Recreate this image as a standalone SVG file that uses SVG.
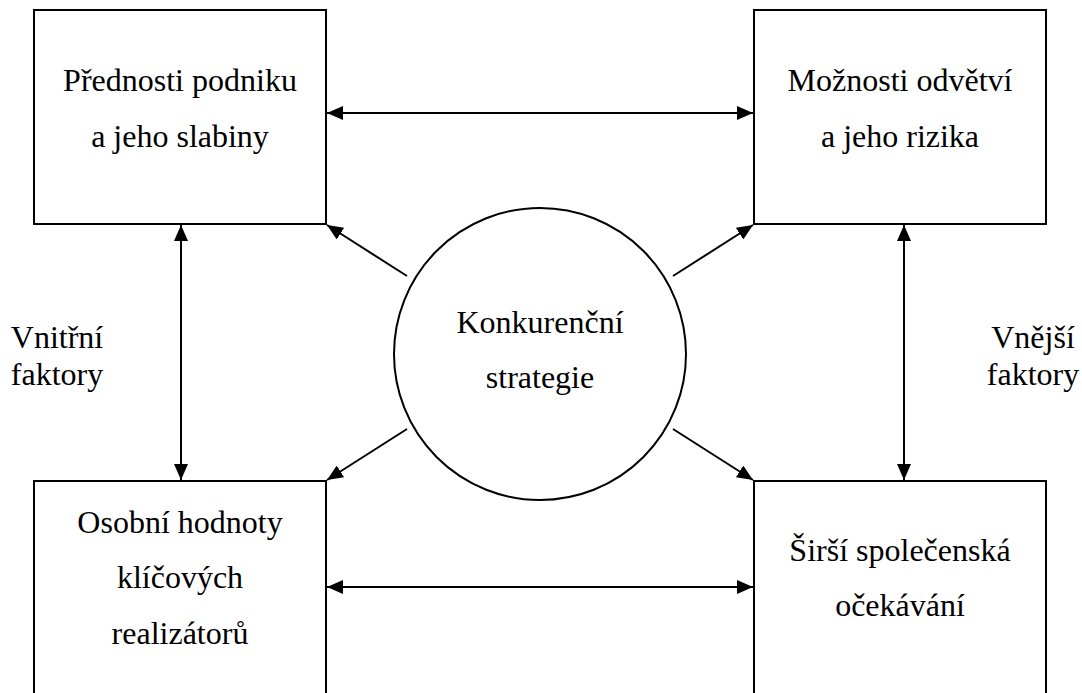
<svg xmlns="http://www.w3.org/2000/svg" width="1082" height="693" viewBox="0 0 1082 693">
  <style>
    .box { fill: #ffffff; stroke: #000000; stroke-width: 2; }
    .lbl { font-family: "Liberation Serif", "Times New Roman", serif; font-size: 32px; fill: #000000; text-anchor: middle; }
    .conn { stroke: #000000; stroke-width: 2; fill: none; }
  </style>
  <defs>
    <marker id="arrow" viewBox="0 0 16 14" refX="16" refY="7" markerWidth="16" markerHeight="14" markerUnits="userSpaceOnUse" orient="auto-start-reverse">
      <path d="M0,0 L16,7 L0,14 Z" fill="#000000"/>
    </marker>
  </defs>
  <rect width="1082" height="693" fill="#ffffff"/>

  <!-- connectors: double arrows between boxes, single arrows out of the circle -->
  <g id="connectors">
    <line class="conn" x1="327" y1="113" x2="753" y2="113" marker-start="url(#arrow)" marker-end="url(#arrow)"/>
    <line class="conn" x1="327" y1="587" x2="753" y2="587" marker-start="url(#arrow)" marker-end="url(#arrow)"/>
    <line class="conn" x1="181" y1="225" x2="181" y2="480" marker-start="url(#arrow)" marker-end="url(#arrow)"/>
    <line class="conn" x1="904" y1="225" x2="904" y2="480" marker-start="url(#arrow)" marker-end="url(#arrow)"/>
    <line class="conn" x1="407" y1="276" x2="327" y2="225" marker-end="url(#arrow)"/>
    <line class="conn" x1="673" y1="276" x2="753" y2="225" marker-end="url(#arrow)"/>
    <line class="conn" x1="407" y1="429" x2="327" y2="480" marker-end="url(#arrow)"/>
    <line class="conn" x1="673" y1="429" x2="753" y2="480" marker-end="url(#arrow)"/>
  </g>

  <g id="node-prednosti">
    <rect class="box" x="34" y="10" width="292" height="214"/>
    <text class="lbl" x="180" y="91">Přednosti podniku</text>
    <text class="lbl" x="180" y="147">a jeho slabiny</text>
  </g>

  <g id="node-moznosti">
    <rect class="box" x="754" y="10" width="292" height="214"/>
    <text class="lbl" x="900" y="91">Možnosti odvětví</text>
    <text class="lbl" x="900" y="147">a jeho rizika</text>
  </g>

  <g id="node-osobni">
    <rect class="box" x="34" y="481" width="292" height="222"/>
    <text class="lbl" x="180" y="533">Osobní hodnoty</text>
    <text class="lbl" x="180" y="588">klíčových</text>
    <text class="lbl" x="180" y="644">realizátorů</text>
  </g>

  <g id="node-sirsi">
    <rect class="box" x="754" y="481" width="292" height="222"/>
    <text class="lbl" x="900" y="561">Širší společenská</text>
    <text class="lbl" x="900" y="616">očekávání</text>
  </g>

  <g id="node-strategie">
    <circle class="box" cx="540" cy="354" r="146"/>
    <text class="lbl" x="540" y="333">Konkurenční</text>
    <text class="lbl" x="540" y="388">strategie</text>
  </g>

  <g id="label-vnitrni">
    <text class="lbl" x="57" y="348">Vnitřní</text>
    <text class="lbl" x="57" y="385">faktory</text>
  </g>

  <g id="label-vnejsi">
    <text class="lbl" x="1033" y="348">Vnější</text>
    <text class="lbl" x="1033" y="385">faktory</text>
  </g>
</svg>
